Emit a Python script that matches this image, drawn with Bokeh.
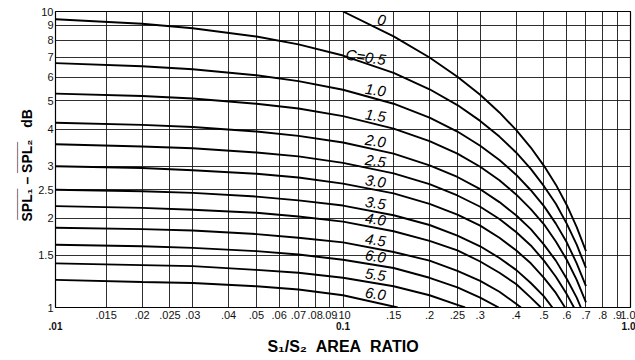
import math
from bokeh.plotting import figure
from bokeh.models import Range1d, LogAxis, FixedTicker, ColumnDataSource
from bokeh.embed import file_html
from bokeh.resources import INLINE
from bokeh.core.properties import value

# Area ratio S1/S2 at which each curve is tabulated
AREA_RATIO = [0.01, 0.02, 0.03, 0.05, 0.07, 0.1, 0.15, 0.2, 0.25, 0.3,
              0.35, 0.4, 0.45, 0.5, 0.55, 0.6, 0.65, 0.7]

# SPL1 - SPL2 (dB) for each value of C; a list stops where the curve drops below 1 dB
DB_C00 = [None, None, None, None, None, 10.0, 8.24, 6.99, 6.02, 5.23, 4.56, 3.98, 3.47, 3.01, 2.60, 2.22, 1.87, 1.55]
DB_C05 = [9.41, 9.09, 8.78, 8.23, 7.74, 7.10, 6.20, 5.46, 4.83, 4.27, 3.78, 3.34, 2.94, 2.57, 2.24, 1.92, 1.63, 1.36]
DB_C10 = [6.69, 6.53, 6.38, 6.09, 5.82, 5.44, 4.88, 4.38, 3.93, 3.52, 3.15, 2.81, 2.49, 2.20, 1.92, 1.66, 1.41, 1.18]
DB_C15 = [5.28, 5.18, 5.08, 4.88, 4.70, 4.43, 4.02, 3.65, 3.31, 2.99, 2.69, 2.41, 2.15, 1.91, 1.67, 1.45, 1.24, 1.04]
DB_C20 = [4.21, 4.14, 4.07, 3.93, 3.80, 3.61, 3.31, 3.02, 2.76, 2.51, 2.27, 2.05, 1.84, 1.63, 1.44, 1.25, 1.08]
DB_C25 = [3.56, 3.50, 3.45, 3.34, 3.24, 3.08, 2.84, 2.61, 2.39, 2.19, 1.99, 1.80, 1.62, 1.44, 1.27, 1.11]
DB_C30 = [3.00, 2.96, 2.91, 2.83, 2.75, 2.62, 2.43, 2.24, 2.06, 1.89, 1.72, 1.56, 1.41, 1.26, 1.12]
DB_C35 = [2.50, 2.47, 2.44, 2.37, 2.30, 2.21, 2.05, 1.90, 1.75, 1.61, 1.47, 1.34, 1.21, 1.09]
DB_C40 = [2.20, 2.17, 2.14, 2.09, 2.03, 1.95, 1.81, 1.68, 1.56, 1.43, 1.31, 1.20, 1.08]
DB_C45 = [1.86, 1.84, 1.82, 1.77, 1.72, 1.66, 1.54, 1.44, 1.33, 1.23, 1.13, 1.03]
DB_C50 = [1.63, 1.61, 1.59, 1.55, 1.51, 1.45, 1.36, 1.26, 1.17, 1.08]
DB_C55 = [1.41, 1.39, 1.38, 1.34, 1.31, 1.26, 1.18, 1.10, 1.02]
DB_C60 = [1.24, 1.22, 1.21, 1.18, 1.15, 1.10]

# Area ratio where a curve reaches the 1 dB floor (None: it ends at 0.7)
FLOOR_RATIO = [None, None, None, None, 0.672, 0.636, 0.592, 0.535, 0.488, 0.416, 0.348, 0.266, 0.155]

CURVES = [DB_C00, DB_C05, DB_C10, DB_C15, DB_C20, DB_C25, DB_C30,
          DB_C35, DB_C40, DB_C45, DB_C50, DB_C55, DB_C60]
CURVE_LABELS = ["0", "C=0.5", "1.0", "1.5", "2.0", "2.5", "3.0",
                "3.5", "4.0", "4.5", "6.0", "5.5", "6.0"]

# Axis ticks and their printed labels
X_TICKS = [0.015, 0.02, 0.025, 0.03, 0.04, 0.05, 0.06, 0.07, 0.08, 0.09, 0.1,
           0.15, 0.2, 0.25, 0.3, 0.4, 0.5, 0.6, 0.7, 0.8, 0.9, 1.0]
X_TICK_TEXT = [".015", ".02", ".025", ".03", ".04", ".05", ".06", ".07", ".08", ".09", ".10",
               ".15", ".2", ".25", ".3", ".4", ".5", ".6", ".7", ".8", ".9", "1.0"]
X_DECADES = [0.01, 0.1, 1.0]
X_DECADE_TEXT = [".01", "0.1", "1.0"]
Y_TICKS = [1, 1.5, 2, 2.5, 3, 4, 5, 6, 7, 8, 9, 10]
Y_TICK_TEXT = ["1", "1.5", "2", "2.5", "3", "4", "5", "6", "7", "8", "9", "10"]

LABEL_RATIO = 0.13  # where the C labels sit along the curves

FONT = "Liberation Sans"
NB = "\u00a0"

# y title: a row of overbars above "SPL1 - SPL2  dB"
Y_TITLE = ("____" + NB * 4 + "____" + NB * 11 + "\n"
           + "SPL\u2081" + NB + "\u2013" + NB + "SPL\u2082" + NB * 3 + "dB" + NB * 3)
X_TITLE = "S\u2081/S\u2082" + NB * 2 + "AREA" + NB * 2 + "RATIO"

p = figure(width=635, height=360, x_axis_type="log", y_axis_type="log",
           x_range=Range1d(0.01, 1.0), y_range=Range1d(1, 10),
           output_backend="svg", toolbar_location=None,
           min_border_left=54, min_border_right=5, min_border_top=11, min_border_bottom=53)
p.background_fill_color = "white"
p.border_fill_color = "white"
p.outline_line_color = "black"
p.outline_line_width = 1.2

# grid
p.xgrid[0].ticker = FixedTicker(ticks=X_TICKS)
p.ygrid[0].ticker = FixedTicker(ticks=Y_TICKS)
for g in (p.xgrid[0], p.ygrid[0]):
    g.grid_line_color = "#1a1a1a"
    g.grid_line_width = 1
    g.grid_line_alpha = 0.9


def style_axis(ax, size, bold=False, standoff=3):
    ax.axis_line_color = None
    ax.major_tick_line_color = None
    ax.minor_tick_line_color = None
    ax.major_tick_in = 0
    ax.major_tick_out = 0
    ax.minor_tick_in = 0
    ax.minor_tick_out = 0
    ax.major_label_standoff = standoff
    ax.major_label_text_font = FONT
    ax.major_label_text_font_size = size
    ax.major_label_text_color = "#111111"
    if bold:
        ax.major_label_text_font_style = "bold"


# first row of x labels
xa = p.xaxis[0]
xa.ticker = FixedTicker(ticks=X_TICKS)
xa.major_label_overrides = dict(zip(X_TICKS, X_TICK_TEXT))
style_axis(xa, "11px", standoff=3)

# second row: decade labels and the axis title
xa2 = LogAxis(ticker=FixedTicker(ticks=X_DECADES),
              major_label_overrides=dict(zip(X_DECADES, X_DECADE_TEXT)))
style_axis(xa2, "10px", bold=True, standoff=0)
xa2.axis_label = X_TITLE
xa2.axis_label_text_font = FONT
xa2.axis_label_text_font_style = "bold"
xa2.axis_label_text_font_size = "16px"
xa2.axis_label_text_color = "black"
xa2.axis_label_standoff = 5
p.add_layout(xa2, "below")

ya = p.yaxis[0]
ya.ticker = FixedTicker(ticks=Y_TICKS)
ya.major_label_overrides = dict(zip(Y_TICKS, Y_TICK_TEXT))
style_axis(ya, "11px", standoff=2)
ya.axis_label = Y_TITLE
ya.axis_label_text_font = FONT
ya.axis_label_text_font_style = "bold"
ya.axis_label_text_font_size = "14px"
ya.axis_label_text_line_height = 1.0
ya.axis_label_text_color = "black"
ya.axis_label_standoff = 0


def interp_loglog(xs, ys, x0):
    lx0 = math.log10(x0)
    for i in range(len(xs) - 1):
        if xs[i] <= x0 <= xs[i + 1]:
            a, b = math.log10(xs[i]), math.log10(xs[i + 1])
            ya_, yb_ = math.log10(ys[i]), math.log10(ys[i + 1])
            t = (lx0 - a) / (b - a)
            return 10 ** (ya_ + t * (yb_ - ya_))
    return ys[0]


label_x, label_y = [], []
for vals, floor_x in zip(CURVES, FLOOR_RATIO):
    xs = [x for x, v in zip(AREA_RATIO, vals) if v is not None]
    ys = [v for v in vals if v is not None]
    if floor_x is not None:
        xs.append(floor_x)
        ys.append(1.0)
    p.line(xs, ys, line_color="black", line_width=1.9)
    label_x.append(LABEL_RATIO)
    label_y.append(interp_loglog(xs, ys, LABEL_RATIO))

labels = ColumnDataSource(dict(x=label_x, y=label_y, text=CURVE_LABELS))
p.text(x="x", y="y", text="text", source=labels,
       text_font=value(FONT), text_font_style="italic", text_font_size="15px",
       text_color="black", text_align="right", text_baseline="middle",
       x_offset=10, y_offset=-7, angle=-0.14)

open("out.html", "w").write(file_html(p, INLINE))
